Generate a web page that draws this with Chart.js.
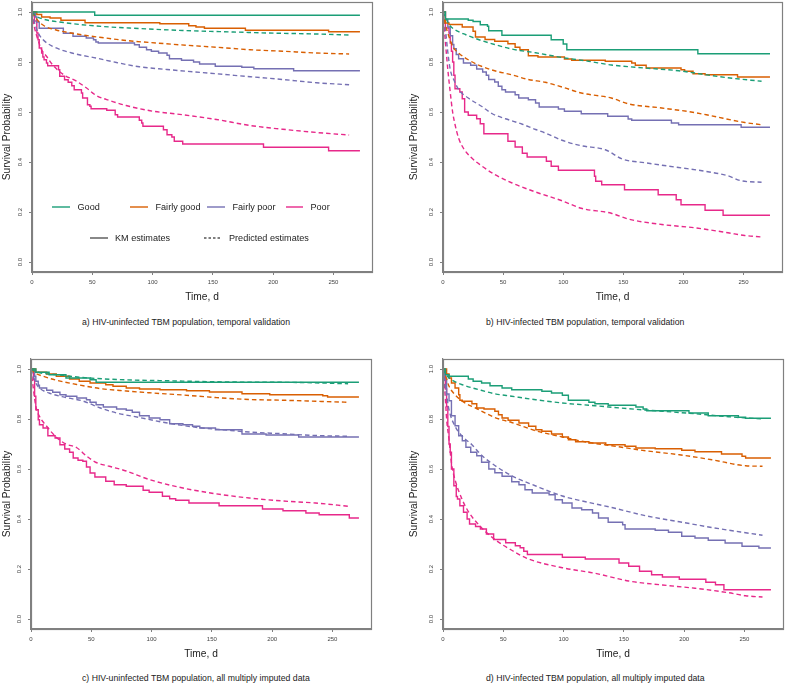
<!DOCTYPE html>
<html>
<head>
<meta charset="utf-8">
<script src="https://cdn.jsdelivr.net/npm/chart.js@4"></script>
<style>
body { margin:0; background:#fff; font-family:"Liberation Sans", Arial, sans-serif; }
#fig { position:relative; width:785px; height:685px; overflow:hidden; background:#fff; }
#fig canvas { position:absolute; }
.cap { position:absolute; font-size:8.7px; line-height:10px; color:#222; white-space:nowrap; }
.leg { position:absolute; font-size:9.1px; line-height:11px; color:#222; white-space:nowrap; }
.legline { position:absolute; }
</style>
</head>
<body>
<div id="fig">
  <canvas id="pa" width="380" height="322" style="left:0px;top:-10px"></canvas>
  <canvas id="pb" width="380" height="322" style="left:405px;top:-10px"></canvas>
  <canvas id="pc" width="380" height="322" style="left:0px;top:347px"></canvas>
  <canvas id="pd" width="380" height="322" style="left:405px;top:347px"></canvas>
  <div id="legend"></div>
  <div class="cap" style="left:82px;top:317px">a) HIV-uninfected TBM population, temporal validation</div>
  <div class="cap" style="left:486px;top:317px">b) HIV-infected TBM population, temporal validation</div>
  <div class="cap" style="left:82px;top:673px">c) HIV-uninfected TBM population, all multiply imputed data</div>
  <div class="cap" style="left:486px;top:673px">d) HIV-infected TBM population, all multiply imputed data</div>
</div>
<script>
// axes
var xTicks = [0, 50, 100, 150, 200, 250];
var yTicks = [0, 0.2, 0.4, 0.6, 0.8, 1.0];
var groups = ['Good', 'Fairly good', 'Fairly poor', 'Poor'];
var groupColors = ['#1B9E77', '#D95F02', '#7570B3', '#E7298A'];
var lineTypes = ['KM estimates', 'Predicted estimates'];

// a) HIV-uninfected, temporal validation  [day, survival]
var a_good_km = [[0,1],[52,0.987],[272,0.987]];
var a_good_pred = [[0,1],[3,0.985],[9,0.972],[26,0.958],[53,0.944],[89,0.934],[125,0.926],[167,0.92],[195,0.916],[236,0.912],[263,0.908]];
var a_fg_km = [[0,1],[4,0.99],[8,0.98],[15,0.976],[24,0.967],[44,0.957],[106,0.953],[130,0.945],[136,0.94],[143,0.935],[177,0.927],[246,0.921],[272,0.921]];
var a_fg_pred = [[0,1],[2,0.985],[5,0.965],[10,0.945],[20,0.928],[30,0.918],[45,0.906],[56,0.899],[78,0.886],[103,0.876],[128,0.867],[153,0.859],[181,0.849],[208,0.843],[236,0.836],[263,0.832]];
var a_fp_km = [[0,1],[3,0.98],[4,0.96],[6,0.935],[26,0.915],[34,0.903],[45,0.896],[51,0.889],[53,0.88],[55,0.876],[85,0.869],[89,0.859],[95,0.849],[99,0.843],[105,0.836],[112,0.827],[114,0.813],[124,0.807],[134,0.8],[139,0.792],[152,0.783],[174,0.779],[184,0.773],[217,0.765],[272,0.765]];
var a_fp_pred = [[0,1],[2,0.96],[5,0.918],[9,0.89],[17,0.863],[33,0.836],[53,0.816],[70,0.798],[89,0.781],[112,0.77],[128,0.763],[153,0.753],[181,0.741],[208,0.73],[236,0.717],[263,0.709]];
var a_poor_km = [[0,1],[2,0.964],[4,0.916],[5,0.889],[6,0.856],[8,0.836],[9,0.82],[10,0.809],[12,0.796],[13,0.785],[22,0.769],[23,0.743],[27,0.729],[30,0.719],[33,0.705],[35,0.689],[41,0.676],[42,0.656],[46,0.629],[48,0.623],[49,0.613],[62,0.607],[69,0.589],[71,0.58],[89,0.567],[91,0.556],[92,0.543],[109,0.529],[112,0.509],[116,0.5],[118,0.483],[125,0.472],[192,0.459],[246,0.445],[272,0.445]];
var a_poor_pred = [[0,1],[2,0.94],[4,0.903],[8,0.849],[12,0.823],[17,0.789],[26,0.75],[37,0.723],[45,0.697],[53,0.667],[65,0.645],[78,0.626],[98,0.605],[125,0.589],[153,0.57],[181,0.546],[208,0.531],[236,0.518],[263,0.508]];

// b) HIV-infected, temporal validation
var b_good_km = [[0,1],[2,0.972],[21,0.967],[25,0.962],[31,0.949],[37,0.943],[38,0.925],[49,0.907],[90,0.889],[100,0.872],[103,0.849],[212,0.833],[272,0.833]];
var b_good_pred = [[0,1],[3,0.97],[5,0.95],[10,0.929],[19,0.909],[30,0.889],[43,0.87],[57,0.852],[77,0.837],[99,0.818],[121,0.803],[140,0.788],[168,0.776],[196,0.765],[223,0.746],[237,0.737],[265,0.723]];
var b_fg_km = [[0,1],[2,0.956],[5,0.95],[16,0.94],[25,0.923],[27,0.9],[35,0.89],[43,0.883],[54,0.873],[60,0.859],[64,0.849],[71,0.825],[79,0.82],[101,0.812],[107,0.807],[135,0.803],[157,0.796],[160,0.787],[169,0.776],[198,0.769],[201,0.763],[208,0.753],[218,0.749],[245,0.74],[272,0.74]];
var b_fg_pred = [[0,1],[2,0.95],[4,0.916],[8,0.863],[13,0.836],[21,0.809],[32,0.783],[43,0.765],[57,0.749],[71,0.73],[85,0.719],[99,0.7],[115,0.676],[140,0.656],[154,0.633],[182,0.616],[209,0.598],[223,0.585],[251,0.558],[265,0.549]];
var b_fp_km = [[0,1],[2,0.97],[4,0.94],[6,0.905],[8,0.87],[9,0.853],[11,0.83],[13,0.813],[17,0.796],[23,0.787],[28,0.772],[33,0.76],[36,0.747],[38,0.73],[43,0.72],[46,0.703],[49,0.689],[52,0.68],[60,0.669],[63,0.656],[71,0.649],[77,0.636],[80,0.62],[96,0.612],[101,0.603],[115,0.593],[137,0.583],[154,0.572],[157,0.567],[190,0.556],[196,0.549],[248,0.539],[272,0.539]];
var b_fp_pred = [[0,1],[2,0.93],[4,0.84],[6,0.77],[9,0.729],[13,0.69],[21,0.656],[32,0.623],[41,0.593],[52,0.573],[66,0.551],[77,0.53],[85,0.516],[99,0.487],[115,0.465],[135,0.449],[149,0.412],[168,0.397],[196,0.378],[218,0.363],[237,0.345],[248,0.325],[265,0.319]];
var b_poor_km = [[0,1],[2,0.936],[5,0.916],[6,0.876],[7,0.843],[8,0.8],[9,0.747],[10,0.693],[14,0.68],[16,0.653],[18,0.6],[21,0.587],[28,0.573],[31,0.553],[34,0.513],[54,0.483],[60,0.46],[66,0.435],[70,0.42],[86,0.403],[90,0.383],[96,0.367],[126,0.343],[127,0.323],[132,0.309],[151,0.289],[179,0.269],[194,0.249],[198,0.229],[218,0.207],[233,0.187],[272,0.187]];
var b_poor_pred = [[0,1],[2,0.88],[4,0.77],[6,0.68],[8,0.6],[10,0.55],[13,0.495],[17,0.455],[23,0.42],[32,0.385],[43,0.35],[57,0.317],[77,0.28],[99,0.245],[115,0.215],[140,0.195],[154,0.172],[182,0.15],[209,0.137],[237,0.117],[251,0.106],[265,0.1]];

// c) HIV-uninfected, all multiply imputed data
var c_good_km = [[0,1],[4,0.987],[15,0.977],[29,0.964],[49,0.957],[54,0.947],[272,0.947]];
var c_good_pred = [[0,1],[5,0.988],[20,0.978],[43,0.966],[71,0.958],[112,0.953],[167,0.948],[222,0.946],[263,0.941]];
var c_fg_km = [[0,1],[4,0.987],[13,0.98],[21,0.971],[32,0.96],[40,0.951],[49,0.944],[62,0.937],[68,0.931],[79,0.924],[90,0.92],[107,0.917],[129,0.913],[148,0.908],[175,0.901],[198,0.897],[242,0.893],[246,0.888],[272,0.888]];
var c_fg_pred = [[0,1],[3,0.985],[10,0.971],[21,0.955],[38,0.938],[57,0.922],[79,0.912],[98,0.905],[126,0.896],[153,0.886],[181,0.878],[209,0.875],[236,0.871],[263,0.867]];
var c_fp_km = [[0,1],[3,0.971],[4,0.951],[6,0.935],[7,0.924],[13,0.915],[18,0.907],[24,0.897],[29,0.891],[38,0.884],[46,0.877],[49,0.867],[54,0.857],[60,0.848],[71,0.84],[79,0.835],[84,0.827],[90,0.813],[98,0.804],[107,0.797],[115,0.781],[126,0.777],[134,0.771],[140,0.764],[153,0.757],[175,0.74],[195,0.736],[222,0.728],[272,0.728]];
var c_fp_pred = [[0,1],[2,0.97],[4,0.944],[7,0.924],[15,0.904],[29,0.886],[43,0.872],[57,0.845],[71,0.824],[90,0.806],[112,0.785],[140,0.765],[159,0.757],[181,0.748],[209,0.741],[236,0.734],[263,0.731]];
var c_poor_km = [[0,1],[2,0.957],[3,0.891],[4,0.837],[6,0.797],[7,0.777],[10,0.764],[14,0.733],[20,0.724],[24,0.697],[28,0.68],[32,0.667],[35,0.644],[39,0.635],[43,0.631],[46,0.608],[49,0.584],[53,0.568],[62,0.551],[69,0.537],[79,0.531],[93,0.515],[98,0.507],[109,0.491],[115,0.481],[120,0.475],[131,0.464],[156,0.453],[192,0.44],[209,0.433],[228,0.424],[239,0.417],[264,0.404],[272,0.404]];
var c_poor_pred = [[0,1],[2,0.92],[4,0.851],[7,0.811],[13,0.771],[21,0.727],[29,0.7],[38,0.685],[46,0.652],[54,0.626],[65,0.611],[79,0.592],[98,0.558],[126,0.524],[153,0.501],[181,0.484],[209,0.472],[236,0.464],[263,0.451]];

// d) HIV-infected, all multiply imputed data
var d_good_km = [[0,1],[2,0.977],[5,0.971],[21,0.96],[25,0.951],[32,0.944],[39,0.933],[49,0.924],[57,0.917],[82,0.911],[90,0.904],[99,0.895],[104,0.875],[121,0.867],[126,0.861],[137,0.855],[160,0.848],[166,0.84],[169,0.833],[204,0.824],[220,0.813],[245,0.807],[251,0.803],[272,0.803]];
var d_good_pred = [[0,1],[3,0.975],[7,0.957],[16,0.937],[30,0.917],[43,0.901],[57,0.891],[77,0.877],[99,0.864],[126,0.853],[154,0.841],[182,0.831],[209,0.821],[237,0.809],[265,0.8]];
var d_fg_km = [[0,1],[3,0.98],[5,0.964],[7,0.944],[10,0.924],[13,0.897],[14,0.875],[16,0.871],[24,0.861],[28,0.844],[34,0.84],[43,0.831],[46,0.817],[49,0.804],[54,0.795],[63,0.784],[71,0.771],[77,0.757],[82,0.751],[90,0.74],[99,0.728],[104,0.717],[110,0.709],[121,0.704],[135,0.697],[151,0.691],[160,0.684],[176,0.681],[198,0.675],[209,0.669],[231,0.66],[248,0.651],[251,0.644],[272,0.644]];
var d_fg_pred = [[0,1],[2,0.975],[5,0.931],[10,0.897],[16,0.871],[27,0.844],[43,0.806],[57,0.786],[77,0.753],[99,0.728],[121,0.706],[140,0.693],[168,0.673],[196,0.657],[223,0.637],[251,0.613],[265,0.611]];
var d_fp_km = [[0,1],[1,0.96],[3,0.9],[5,0.873],[7,0.813],[10,0.773],[13,0.733],[16,0.713],[19,0.687],[23,0.667],[28,0.653],[32,0.627],[38,0.6],[43,0.585],[49,0.571],[57,0.549],[63,0.537],[68,0.517],[74,0.504],[88,0.497],[93,0.477],[99,0.464],[107,0.444],[115,0.437],[124,0.424],[129,0.404],[137,0.387],[149,0.377],[151,0.36],[176,0.355],[187,0.347],[198,0.331],[209,0.324],[220,0.315],[234,0.304],[248,0.291],[262,0.284],[272,0.284]];
var d_fp_pred = [[0,1],[2,0.93],[5,0.837],[10,0.771],[16,0.731],[24,0.697],[32,0.655],[43,0.614],[57,0.573],[77,0.532],[99,0.492],[121,0.466],[140,0.446],[168,0.413],[196,0.389],[223,0.366],[251,0.345],[265,0.335]];
var d_poor_km = [[0,1],[2,0.92],[3,0.85],[4,0.77],[5,0.7],[6,0.667],[7,0.6],[9,0.533],[11,0.49],[12,0.48],[14,0.453],[17,0.427],[20,0.4],[22,0.38],[27,0.37],[31,0.36],[36,0.34],[42,0.318],[52,0.305],[60,0.293],[64,0.285],[67,0.271],[70,0.258],[99,0.247],[118,0.24],[146,0.224],[154,0.211],[163,0.191],[173,0.177],[182,0.168],[196,0.159],[218,0.147],[226,0.137],[233,0.117],[272,0.117]];
var d_poor_pred = [[0,1],[2,0.88],[3,0.8],[5,0.717],[7,0.624],[10,0.557],[16,0.477],[21,0.43],[30,0.375],[43,0.318],[57,0.275],[71,0.24],[99,0.205],[126,0.183],[154,0.152],[182,0.136],[209,0.123],[237,0.105],[251,0.093],[265,0.088]];

// layout of the four panels
var panels = [
  { id:'pa', km:[a_good_km,a_fg_km,a_fp_km,a_poor_km], pred:[a_good_pred,a_fg_pred,a_fp_pred,a_poor_pred], yw:32, padR:8, ytp:1.5 },
  { id:'pb', km:[b_good_km,b_fg_km,b_fp_km,b_poor_km], pred:[b_good_pred,b_fg_pred,b_fp_pred,b_poor_pred], yw:38, padR:3, ytp:2.7 },
  { id:'pc', km:[c_good_km,c_fg_km,c_fp_km,c_poor_km], pred:[c_good_pred,c_fg_pred,c_fp_pred,c_poor_pred], yw:31, padR:9, ytp:1.2 },
  { id:'pd', km:[d_good_km,d_fg_km,d_fp_km,d_poor_km], pred:[d_good_pred,d_fg_pred,d_fp_pred,d_poor_pred], yw:38, padR:2, ytp:2.7 }
];

var FONT = '"Liberation Sans", Arial, sans-serif';
var axisGrey = '#808080';

// box round the plot region, like R's bty="o"
var boxPlugin = {
  id: 'box',
  afterDraw: function(chart) {
    var a = chart.chartArea, c = chart.ctx;
    c.save();
    c.strokeStyle = axisGrey;
    c.lineWidth = 1.2;
    c.strokeRect(Math.round(a.left) + 0.5, Math.round(a.top) + 0.5, Math.round(a.right - a.left), Math.round(a.bottom - a.top));
    c.restore();
  }
};

// y tick labels turned 90 degrees (R las=0), placed on the y scale's own ticks
var yLabelPlugin = {
  id: 'ylabels',
  afterDraw: function(chart) {
    var s = chart.scales.y, c = chart.ctx;
    c.save();
    c.font = '6px ' + FONT;
    c.fillStyle = '#444';
    c.textAlign = 'center';
    c.textBaseline = 'middle';
    s.ticks.forEach(function(t) {
      var y = s.getPixelForValue(t.value);
      c.save();
      c.translate(s.right - 11.3, y);
      c.rotate(-Math.PI / 2);
      c.fillText(t.value.toFixed(1), 0, 0);
      c.restore();
    });
    c.restore();
  }
};

function toPts(arr) {
  return arr.map(function(p){ return { x: p[0], y: p[1] }; });
}

panels.forEach(function(p) {
  var datasets = [];
  for (var g = 0; g < groups.length; g++) {
    datasets.push({
      label: groups[g] + ' ' + lineTypes[1],
      data: toPts(p.pred[g]),
      borderColor: groupColors[g],
      borderWidth: 1.4,
      borderDash: [4.5, 3],
      pointRadius: 0,
      cubicInterpolationMode: 'monotone',
      fill: false
    });
    datasets.push({
      label: groups[g] + ' ' + lineTypes[0],
      data: toPts(p.km[g]),
      borderColor: groupColors[g],
      borderWidth: 1.4,
      stepped: 'before',
      pointRadius: 0,
      fill: false
    });
  }

  new Chart(document.getElementById(p.id), {
    type: 'line',
    data: { datasets: datasets },
    plugins: [boxPlugin, yLabelPlugin],
    options: {
      responsive: false,
      animation: false,
      layout: { padding: { top: 12, right: p.padR, bottom: 0, left: 0 } },
      plugins: { legend: { display: false }, tooltip: { enabled: false } },
      scales: {
        x: {
          type: 'linear', min: 0, max: 282,
          afterBuildTicks: function(s){ s.ticks = xTicks.map(function(v){ return { value: v }; }); },
          afterFit: function(s){ s.height = 40; },
          ticks: { font: { family: FONT, size: 6 }, color: '#444', padding: 3.8, maxRotation: 0,
                   callback: function(v){ return String(v); } },
          grid: { drawOnChartArea: false, drawTicks: true, tickLength: 3, color: axisGrey },
          border: { display: true, color: axisGrey, width: 1.2 },
          title: { display: true, text: 'Time, d', font: { family: FONT, size: 10.2 }, color: '#222',
                   padding: { top: 0, bottom: 9 } }
        },
        y: {
          type: 'linear', min: -0.04, max: 1.04,
          afterBuildTicks: function(s){ s.ticks = yTicks.map(function(v){ return { value: v }; }); },
          afterFit: function(s){ s.width = p.yw; },
          ticks: { display: false },
          grid: { drawOnChartArea: false, drawTicks: true, tickLength: 3, color: axisGrey },
          border: { display: true, color: axisGrey, width: 1.2 },
          title: { display: true, text: 'Survival Probability', font: { family: FONT, size: 10.2 }, color: '#222',
                   padding: { top: p.ytp, bottom: 0 } }
        }
      }
    }
  });
});

// legend inside panel a
var legendItems = [
  { text: groups[0], color: groupColors[0], dash: null, x1: 52, x2: 70, tx: 77.5, y: 207 },
  { text: groups[1], color: groupColors[1], dash: null, x1: 130, x2: 148, tx: 155.5, y: 207 },
  { text: groups[2], color: groupColors[2], dash: null, x1: 207, x2: 225, tx: 232.5, y: 207 },
  { text: groups[3], color: groupColors[3], dash: null, x1: 286, x2: 303, tx: 310.5, y: 207 },
  { text: lineTypes[0], color: '#555', dash: null, x1: 90, x2: 108, tx: 115, y: 238 },
  { text: lineTypes[1], color: '#555', dash: '2.5,2', x1: 204, x2: 222, tx: 229, y: 238 }
];
var leg = document.getElementById('legend');
legendItems.forEach(function(it) {
  var w = it.x2 - it.x1;
  var svg = '<svg class="legline" width="' + w + '" height="4" style="left:' + it.x1 + 'px;top:' + (it.y - 2) + 'px">' +
    '<line x1="0" y1="2" x2="' + w + '" y2="2" stroke="' + it.color + '" stroke-width="1.4"' +
    (it.dash ? ' stroke-dasharray="' + it.dash + '"' : '') + '/></svg>';
  leg.insertAdjacentHTML('beforeend', svg);
  leg.insertAdjacentHTML('beforeend', '<div class="leg" style="left:' + it.tx + 'px;top:' + (it.y - 5.5) + 'px">' + it.text + '</div>');
});
</script>
</body>
</html>
